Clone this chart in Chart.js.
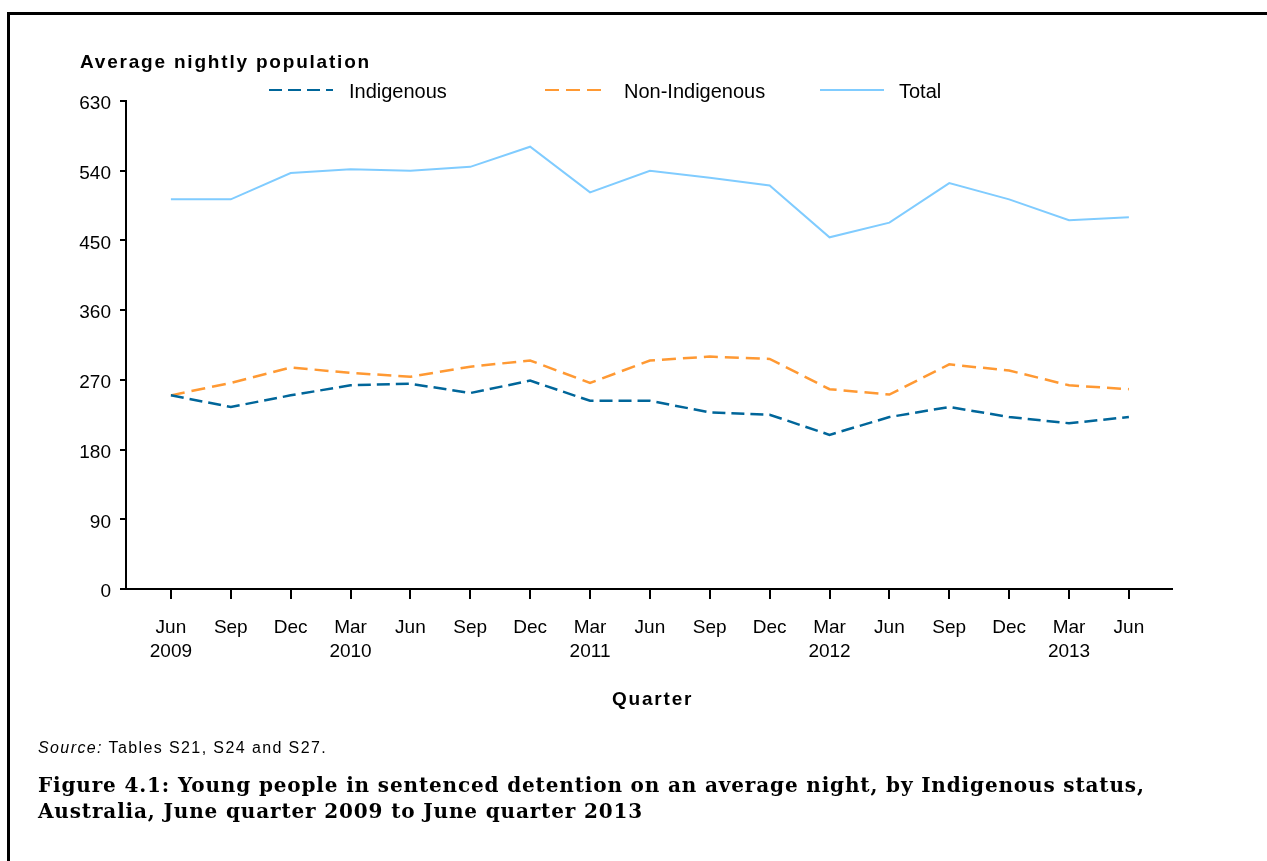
<!DOCTYPE html>
<html>
<head>
<meta charset="utf-8">
<script src="https://cdn.jsdelivr.net/npm/chart.js@4.4.1/dist/chart.umd.min.js"></script>
<style>
  body { margin: 0; background: #fff; width: 1267px; height: 861px; overflow: hidden; position: relative; }
  #frame { position: absolute; left: 7px; top: 12px; width: 1300px; height: 900px; border: 3px solid #000; box-sizing: border-box; }
  #myChart { position: absolute; left: 0; top: 0; }
  .txt { position: absolute; white-space: nowrap; color: #000; font-family: "Liberation Sans", Arial, sans-serif; line-height: 1; }
  #ytitle { left: 80px; top: 52px; font-size: 19px; font-weight: bold; letter-spacing: 1.8px; }
  #xtitle { left: 612px; top: 689px; font-size: 19px; font-weight: bold; letter-spacing: 1.8px; }
  #source { left: 38px; top: 740px; font-size: 16px; letter-spacing: 1.4px; }
  #caption { left: 38px; top: 772px; font-family: "DejaVu Serif", serif; font-weight: bold; font-size: 20px; letter-spacing: 0.85px; line-height: 26px; }
</style>
</head>
<body>
<div id="frame"></div>
<canvas id="myChart" width="1267" height="861"></canvas>
<div class="txt" id="ytitle">Average nightly population</div>
<div class="txt" id="xtitle">Quarter</div>
<div class="txt" id="source"><i>Source:</i> Tables S21, S24 and S27.</div>
<div class="txt" id="caption">Figure 4.1: Young people in sentenced detention on an average night, by Indigenous status,<br>Australia, June quarter 2009 to June quarter 2013</div>

<script>
'use strict';

////////// DATA //////////
let quarters = ['Jun', 'Sep', 'Dec', 'Mar', 'Jun', 'Sep', 'Dec', 'Mar', 'Jun',
  'Sep', 'Dec', 'Mar', 'Jun', 'Sep', 'Dec', 'Mar', 'Jun'];
let years = ['2009', '', '', '2010', '', '', '', '2011', '',
  '', '', '2012', '', '', '', '2013', ''];

let indigenous = [250, 235, 250, 263, 265, 253, 269, 243, 243, 228, 225, 199, 222, 235, 222, 214, 222];
let nonIndigenous = [250, 266, 286, 279, 274, 287, 295, 266, 295, 300, 297, 258, 251, 290, 282, 263, 258];
let total = [503, 503, 537, 542, 540, 545, 571, 512, 540, 531, 521, 454, 473, 524, 503, 476, 480];

let yTicks = [0, 90, 180, 270, 360, 450, 540, 630];

////////// HELPERS //////////
function toPoints(arr){
  return arr.map((v, i) => ({x: i, y: v}));
}

// legend drawn by hand, lines with same dash as the series
const legendPlugin = {
  id: 'handLegend',
  afterDraw(chart){
    const ctx = chart.ctx;
    const items = [
      {ds: 0, x1: 269, x2: 333, tx: 349},
      {ds: 1, x1: 545, x2: 608, tx: 624},
      {ds: 2, x1: 820, x2: 884, tx: 899}
    ];
    const y = 90;
    ctx.save();
    items.forEach(it => {
      const ds = chart.data.datasets[it.ds];
      ctx.strokeStyle = ds.borderColor;
      ctx.lineWidth = 2;
      ctx.setLineDash(ds.borderDash || []);
      ctx.beginPath();
      ctx.moveTo(it.x1, y);
      ctx.lineTo(it.x2, y);
      ctx.stroke();
      ctx.setLineDash([]);
      ctx.fillStyle = '#000';
      ctx.font = '20px "Liberation Sans", Arial, sans-serif';
      ctx.textBaseline = 'middle';
      ctx.fillText(ds.label, it.tx, y + 2);
    });
    ctx.restore();
  }
};

////////// CHART //////////
function renderChart(){
  const data = {
    datasets: [{
      label: 'Indigenous',
      data: toPoints(indigenous),
      borderColor: '#00669a',
      borderWidth: 2.5,
      borderDash: [13, 6],
      pointRadius: 0,
      tension: 0
    },
    {
      label: 'Non-Indigenous',
      data: toPoints(nonIndigenous),
      borderColor: '#ff9933',
      borderWidth: 2.5,
      borderDash: [14, 7],
      pointRadius: 0,
      tension: 0
    },
    {
      label: 'Total',
      data: toPoints(total),
      borderColor: '#80ccff',
      borderWidth: 2,
      pointRadius: 0,
      tension: 0
    }]
  };

  const tickFont = {family: '"Liberation Sans", Arial, sans-serif', size: 19, lineHeight: 1.25};

  const ctx = document.getElementById('myChart');
  new Chart(ctx, {
    type: 'line',
    data: data,
    plugins: [legendPlugin],
    options: {
      responsive: false,
      animation: false,
      devicePixelRatio: 1,
      layout: {
        padding: {left: 66, top: 101, right: 95, bottom: 192}
      },
      plugins: {
        legend: {display: false},
        tooltip: {enabled: false}
      },
      scales: {
        x: {
          type: 'linear',
          min: -0.75,
          max: 16.72,
          afterBuildTicks: (scale) => {
            scale.ticks = quarters.map((q, i) => ({value: i}));
          },
          afterFit: (scale) => { scale.height = 80; },
          ticks: {
            autoSkip: false,
            maxRotation: 0,
            color: '#000',
            font: tickFont,
            padding: 17,
            callback: (val) => years[val] ? [quarters[val], years[val]] : quarters[val]
          },
          grid: {
            drawOnChartArea: false,
            drawTicks: true,
            tickLength: 10,
            color: '#000',
            lineWidth: 2
          },
          border: {display: true, color: '#000', width: 2}
        },
        y: {
          min: 0,
          max: 630,
          afterBuildTicks: (scale) => {
            scale.ticks = yTicks.map(v => ({value: v}));
          },
          afterFit: (scale) => { scale.width = 60; },
          ticks: {
            color: '#000',
            font: tickFont,
            padding: 9,
            labelOffset: 3
          },
          grid: {
            drawOnChartArea: false,
            drawTicks: true,
            tickLength: 6,
            color: '#000',
            lineWidth: 2
          },
          border: {display: true, color: '#000', width: 2}
        }
      }
    }
  });
}

renderChart();
</script>
</body>
</html>
